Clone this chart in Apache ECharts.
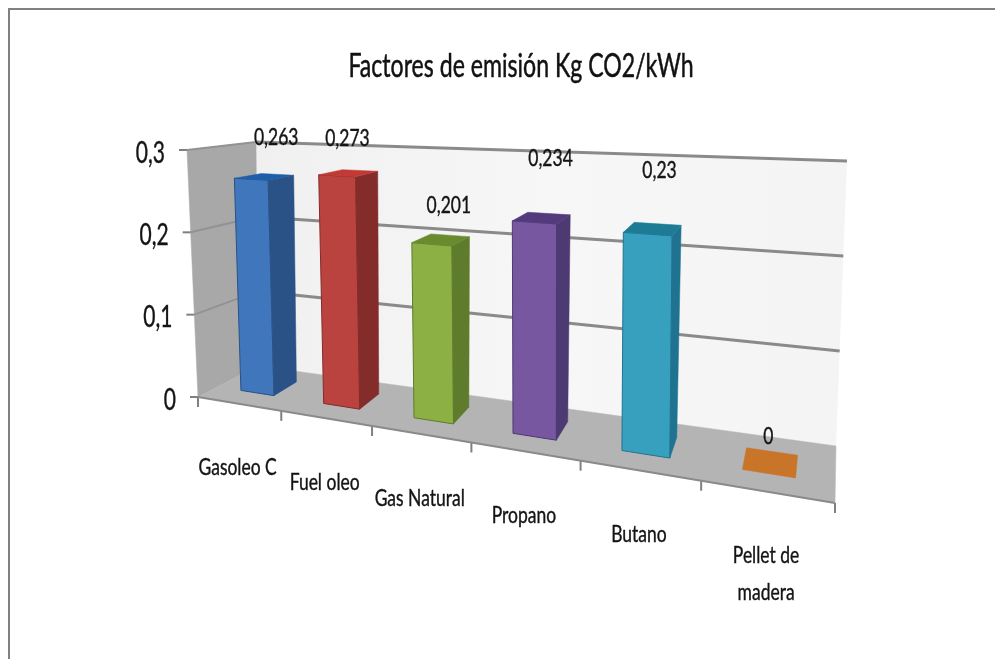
<!DOCTYPE html>
<html>
<head>
<meta charset="utf-8">
<style>html,body{margin:0;padding:0;background:#fff}#chart{width:995px;height:659px}</style>
<script src="https://cdn.jsdelivr.net/npm/echarts@6/dist/echarts.min.js"></script>
</head>
<body>
<div id="chart"></div>
<script>
// Emission factors per fuel
const chartTitle = 'Factores de emisión Kg CO2/kWh';
const categories = ['Gasoleo C', 'Fuel oleo', 'Gas Natural', 'Propano', 'Butano', 'Pellet de\nmadera'];
const values = [0.263, 0.273, 0.201, 0.234, 0.23, 0];
const valueLabels = ['0,263', '0,273', '0,201', '0,234', '0,23', '0'];
const tickValues = [0, 0.1, 0.2, 0.3];
const tickLabels = ['0', '0,1', '0,2', '0,3'];

// Face colours of each column
const frontColors = ['#3f76bc', '#ba4340', '#8db045', '#7657a0', '#38a0bf', '#c8752a'];
const sideColors = ['#2a5286', '#832c2a', '#5e7c2c', '#4e3a73', '#1f7390', '#c8752a'];
const topColors = ['#1f5fa8', '#c23a36', '#6a8a30', '#523a7d', '#1e7b96', '#c8752a'];

// Excel-style placement of the value labels relative to the column top
const labelNudge = [[12, -39], [-1, -35], [8, -34], [9, -59], [7, -58], [-2, -26]];

// Pixel corners of the 3D chart box: front/back, bottom/top, left/right
const box = {
  fbl: [198, 397], ftl: [187, 150], fbr: [835, 503], ftr: [840, 183],
  bbl: [258, 366], btl: [256, 142], bbr: [836, 446], btr: [847, 161]
};
const foreshorten = 1.33;   // horizontal perspective along the category direction
const barNear = 0.33, barFar = 0.74, barHalf = 0.205;
const textFont = 'Lato, "Open Sans", sans-serif';
const squeeze = 0.7;        // condensed look for axis text and title
const squeezeLabels = 0.76; // slightly wider for value and category labels

// Carries a flat grid position plus a depth (0 front, 1 back) onto the tilted box
function project(cs, px, py, d) {
  const u = (px - cs.x) / cs.width;
  const w = (cs.y + cs.height - py) / cs.height;
  const s = u / (u + foreshorten * (1 - u));
  const mix = (a, b, t) => [a[0] + (b[0] - a[0]) * t, a[1] + (b[1] - a[1]) * t];
  const frontBottom = mix(box.fbl, box.fbr, s), frontTop = mix(box.ftl, box.ftr, s);
  const backBottom = mix(box.bbl, box.bbr, s), backTop = mix(box.btl, box.btr, s);
  return mix(mix(frontBottom, frontTop, w), mix(backBottom, backTop, w), d);
}
const poly = (points, fill, stroke) => ({
  type: 'polygon', shape: { points },
  style: { fill, stroke: stroke || fill, lineWidth: stroke ? 1 : 0.5, lineJoin: 'round' }
});
const line = (a, b, color, width) => ({
  type: 'polyline', shape: { points: [a, b] },
  style: { fill: 'none', stroke: color, lineWidth: width }
});
const label = (x, y, text, size, align, vAlign, scale, extra) => ({
  type: 'text', x, y, scaleX: scale,
  style: Object.assign({ text, fill: '#141414', stroke: '#141414', lineWidth: 0.4,
    font: size + 'px ' + textFont, textAlign: align, textVerticalAlign: vAlign }, extra)
});

// Walls, floor, gridlines, axis ticks and tick labels
function renderFrame(params, api) {
  const cs = params.coordSys;
  const xL = cs.x, xR = cs.x + cs.width, yB = cs.y + cs.height, yT = cs.y;
  const P = (x, y, d) => project(cs, x, y, d);
  const children = [
    { type: 'polygon', shape: { points: [P(xL, yB, 1), P(xL, yT, 1), P(xR, yT, 1), P(xR, yB, 1)] },
      style: { fill: { type: 'linear', x: 0, y: 0, x2: 1, y2: 0, colorStops: [
        { offset: 0, color: '#f0f0f0' }, { offset: 0.5, color: '#f7f7f7' }, { offset: 1, color: '#f4f4f4' }] } } },
    poly([P(xL, yB, 0), P(xL, yT, 0), P(xL, yT, 1), P(xL, yB, 1)], '#a8a8a8'),
    poly([P(xL, yB, 0), P(xR, yB, 0), P(xR, yB, 1), P(xL, yB, 1)], '#b4b4b4')
  ];
  tickValues.forEach((v, k) => {
    const y = api.coord([0, v])[1];
    const f = P(xL, y, 0), b = P(xL, y, 1), e = P(xR, y, 1);
    children.push(line([f[0] - 8, f[1]], f, '#808080', 2));
    if (v > 0) {
      children.push(line(f, b, '#929292', 2));
      children.push(line(b, e, '#8a8a8a', 3));
    }
    children.push(label(f[0] - 22, f[1] + 3, tickLabels[k], 30, 'right', 'middle', squeeze));
  });
  const band = cs.width / categories.length;
  categories.concat(['']).forEach((_, i) => {
    const p = P(xL + band * i, yB, 0);
    children.push(line(p, [p[0], p[1] + 10], '#808080', 2));
  });
  children.push(line(P(xL, yB, 0), P(xR, yB, 0), '#8a8a8a', 2));
  return { type: 'group', children };
}

// One column: front, right side and top faces, plus its value label
function renderBar(params, api) {
  const cs = params.coordSys;
  const i = api.value(0), v = api.value(1);
  const band = api.size([1, 0])[0];
  const [cx, yTop] = api.coord([i, v]);
  const yBase = api.coord([i, 0])[1];
  const l = cx - band * barHalf, r = cx + band * barHalf;
  const P = (x, y, d) => project(cs, x, y, d);
  const children = [];
  if (v > 0) {
    children.push(poly([P(l, yBase, barNear), P(r, yBase, barNear), P(r, yTop, barNear), P(l, yTop, barNear)], frontColors[i], sideColors[i]));
    children.push(poly([P(r, yBase, barNear), P(r, yBase, barFar), P(r, yTop, barFar), P(r, yTop, barNear)], sideColors[i]));
  }
  children.push(poly([P(l, yTop, barNear), P(r, yTop, barNear), P(r, yTop, barFar), P(l, yTop, barFar)], topColors[i]));
  const anchor = P(cx, yTop, (barNear + barFar) / 2);
  children.push(label(anchor[0] + labelNudge[i][0], anchor[1] + labelNudge[i][1], valueLabels[i], 23, 'center', 'middle', squeezeLabels));
  return { type: 'group', children };
}

// Category names follow the sloping front edge of the floor
function renderCategory(params, api) {
  const cs = params.coordSys;
  const i = api.value(0);
  const band = api.size([1, 0])[0];
  const cx = api.coord([i, 0])[0], yBase = api.coord([i, 0])[1];
  const a = project(cs, cx - band / 2, yBase, 0), b = project(cs, cx + band / 2, yBase, 0);
  return label((a[0] + b[0]) / 2 - 2, (a[1] + b[1]) / 2 + 64 - 18.5, categories[i], 23, 'center', 'top', squeezeLabels, { lineHeight: 37 });
}

const rows = values.map((v, i) => [i, v]);
const chart = echarts.init(document.getElementById('chart'), null, { renderer: 'canvas' });
chart.setOption({
  animation: false,
  backgroundColor: '#ffffff',
  grid: { left: 198, right: 160, top: 153, bottom: 260 },
  xAxis: { type: 'category', data: categories, show: false },
  yAxis: {
    type: 'value', min: 0, max: 0.3, interval: 0.1,
    axisLine: { show: false }, axisTick: { show: false }, splitLine: { show: false }, axisLabel: { show: false }
  },
  graphic: [
    { type: 'rect', shape: { x: 8, y: 8, width: 987, height: 2 }, style: { fill: '#808080' } },
    { type: 'rect', shape: { x: 8, y: 8, width: 2, height: 651 }, style: { fill: '#808080' } },
    { type: 'text', x: 521, y: 66, scaleX: squeeze,
      style: { text: chartTitle, fill: '#111', stroke: '#111', lineWidth: 0.5, font: '33px ' + textFont, textAlign: 'center', textVerticalAlign: 'middle' } }
  ],
  series: [
    { type: 'custom', coordinateSystem: 'cartesian2d', data: [[0, 0]], renderItem: renderFrame, encode: { x: 0, y: 1 }, z: 1, silent: true },
    { type: 'custom', coordinateSystem: 'cartesian2d', data: rows, renderItem: renderBar, encode: { x: 0, y: 1 }, z: 2 },
    { type: 'custom', coordinateSystem: 'cartesian2d', data: rows, renderItem: renderCategory, encode: { x: 0, y: 1 }, z: 3 }
  ]
});
</script>
</body>
</html>
